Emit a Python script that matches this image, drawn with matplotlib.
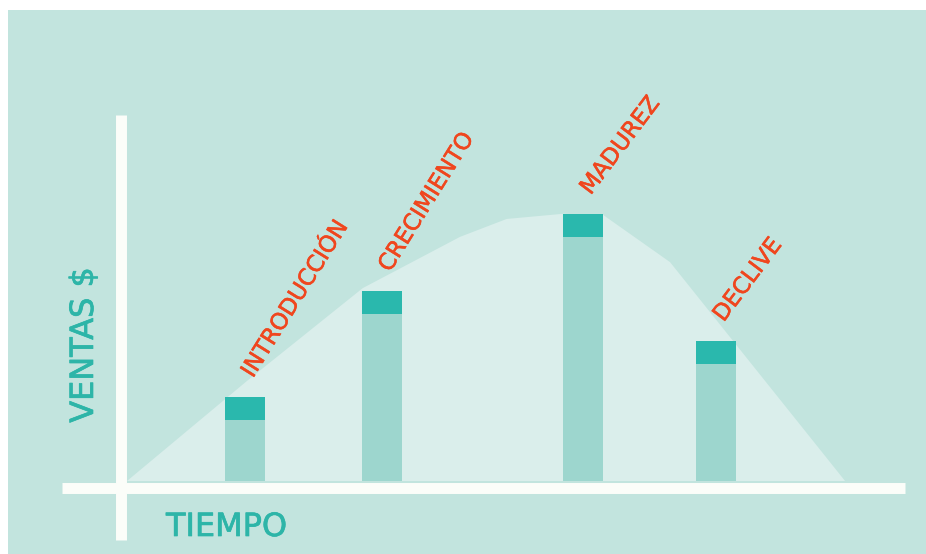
import numpy as np
import matplotlib
matplotlib.use("Agg")
from matplotlib import pyplot as plt
from matplotlib import patheffects as pe
from matplotlib.patches import Rectangle

# product life cycle: sales curve over time and one bar per stage
curve_time = [0, 15.4, 30.3, 42.8, 48.8, 56.0, 61.2, 69.8, 92.3]
curve_sales = [0, 27.3, 52.7, 66.7, 71.6, 73.0, 72.7, 59.8, 0]

stages = ["INTRODUCCIÓN", "CRECIMIENTO", "MADUREZ", "DECLIVE"]
stage_time = [15.2, 32.8, 58.6, 75.7]
stage_sales = [23.0, 51.9, 73.0, 38.3]
cap_size = 6.3

x_title = "TIEMPO"
y_title = "VENTAS $"

bg = "#c2e4de"
area_col = "#daeeeb"
bar_col = "#9dd6ce"
cap_col = "#2ab8ad"
axis_col = "#fbfdf9"
teal_txt = "#2db5a8"
orange_txt = "#f0461e"

fig = plt.figure(figsize=(9.26, 5.54), dpi=100)
fig.patch.set_facecolor("white")
fig.add_artist(Rectangle((8 / 926, 0), 1, 1 - 10 / 554, transform=fig.transFigure,
                         facecolor=bg, edgecolor="none", zorder=0))

ax = fig.add_axes([127 / 926, (554 - 481) / 554, 778 / 926, 366 / 554])
ax.set_xlim(0, 100)
ax.set_ylim(0, 100)
ax.axis("off")

# sales area
ax.fill(curve_time, curve_sales, color=area_col, zorder=1, lw=0)

# bars with a darker cap on top
bar_w = 5.1
bases = [s - cap_size for s in stage_sales]
ax.bar(stage_time, bases, width=bar_w, color=bar_col, zorder=2)
ax.bar(stage_time, [cap_size] * len(stages), bottom=bases, width=bar_w,
       color=cap_col, zorder=2)

# stage labels, tilted (a thin stroke makes them a touch heavier)
lab_fx = [pe.withStroke(linewidth=0.4, foreground=orange_txt)]
angles = [58, 58, 53, 53]
for name, t, s, ang in zip(stages, stage_time, stage_sales, angles):
    ax.annotate(name, xy=(t, s), xytext=(5.5, 13), textcoords="offset points",
                rotation=ang, rotation_mode="anchor", ha="left", va="baseline",
                fontsize=16.5, color=orange_txt, zorder=4, path_effects=lab_fx)

# thick white axes crossing near the origin
ax.plot([-8.4, 100], [-1.78, -1.78], color=axis_col, lw=7.9,
        solid_capstyle="butt", clip_on=False, zorder=3)
ax.plot([-0.71, -0.71], [-16.1, 100], color=axis_col, lw=7.9,
        solid_capstyle="butt", clip_on=False, zorder=3)

# axis titles
ttl_fx = [pe.withStroke(linewidth=0.5, foreground=teal_txt)]
fig.text(166 / 926, (554 - 536) / 554, x_title, ha="left", va="baseline",
         fontsize=23, color=teal_txt, path_effects=ttl_fx)
fig.text(93 / 926, (554 - 345) / 554, y_title, ha="center", va="baseline",
         rotation=90, rotation_mode="anchor", fontsize=23, color=teal_txt,
         path_effects=ttl_fx)

fig.savefig("out.png", dpi=100)
